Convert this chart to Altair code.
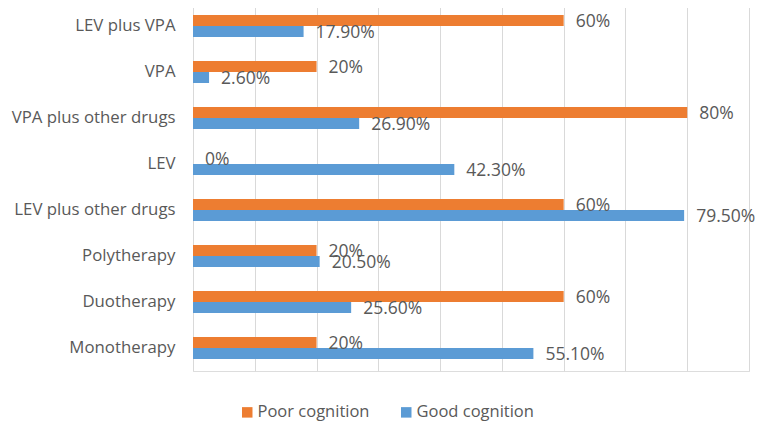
import altair as alt
import pandas as pd

categories = ["LEV plus VPA", "VPA\u00a0", "VPA plus other drugs", "LEV",
              "LEV plus other drugs", "Polytherapy", "Duotherapy", "Monotherapy"]
series = ["Poor cognition", "Good cognition"]
poor = [60, 20, 80, 0, 60, 20, 60, 20]
good = [17.9, 2.6, 26.9, 42.3, 79.5, 20.5, 25.6, 55.1]
poor_labels = ["60%", "20%", "80%", "0%", "60%", "20%", "60%", "20%"]
good_labels = ["17.90%", "2.60%", "26.90%", "42.30%", "79.50%", "20.50%", "25.60%", "55.10%"]

rows = []
for c, p, pl in zip(categories, poor, poor_labels):
    rows.append({"cat": c, "series": series[0], "value": p, "label": pl})
for c, g, gl in zip(categories, good, good_labels):
    rows.append({"cat": c, "series": series[1], "value": g, "label": gl})
df = pd.DataFrame(rows)

FONT = "Open Sans"
GRAY = "#595959"

y_enc = alt.Y("cat:N", sort=categories, title=None,
              scale=alt.Scale(paddingInner=0.52, paddingOuter=0.26),
              axis=alt.Axis(ticks=False, domain=False, labelFontSize=16.8,
                            labelColor=GRAY, labelFont=FONT, labelPadding=18,
                            minExtent=185, maxExtent=185, labelLimit=300))
x_enc = alt.X("value:Q", title=None,
              scale=alt.Scale(domain=[0, 90], nice=False),
              axis=alt.Axis(values=list(range(0, 91, 10)), labels=False, ticks=False,
                            domain=False, grid=True, gridColor="#D9D9D9", gridWidth=1))
yoff = alt.YOffset("series:N", sort=series, scale=alt.Scale(paddingInner=0, paddingOuter=0))

bars = alt.Chart(df).mark_bar(size=11).encode(
    x=x_enc,
    y=y_enc,
    yOffset=yoff,
    color=alt.Color("series:N", sort=series,
                    scale=alt.Scale(domain=series, range=["#ED7D31", "#5B9BD5"]),
                    legend=alt.Legend(title=None, orient="none", direction="horizontal",
                                      legendX=46, legendY=401,
                                      symbolType="square", symbolSize=110,
                                      symbolStrokeWidth=0,
                                      labelFontSize=16.5, labelColor=GRAY, labelFont=FONT,
                                      columnPadding=28, labelOffset=2)),
)

texts = alt.Chart(df).mark_text(align="left", baseline="middle", dx=12, dy=1.5,
                                fontSize=17.5, color=GRAY, font=FONT).encode(
    x="value:Q",
    y=alt.Y("cat:N", sort=categories),
    yOffset=yoff,
    text="label:N",
)

chart = (bars + texts).properties(
    width=556, height=368,
    padding={"left": 0, "top": -5, "right": 0, "bottom": 10},
).configure_view(stroke=None).configure(background="white")

chart.save("out.html", embed_options={"renderer": "svg", "actions": False})
